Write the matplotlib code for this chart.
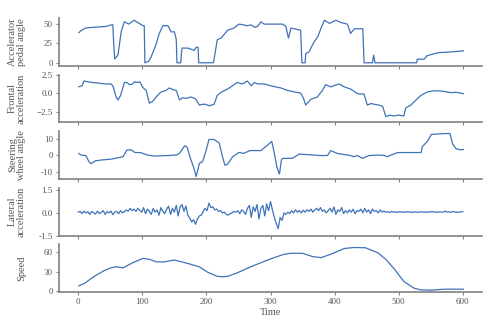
import numpy as np
import matplotlib
matplotlib.use("Agg")
import matplotlib.pyplot as plt

# ---------------------------- datos leidos ----------------------------
t_acc = [1, 5, 12, 25, 44, 51, 54, 55, 57, 62, 67, 72, 79, 87, 95, 101, 103, 104, 110,
         114, 122, 126, 132, 140, 145, 150, 153, 154, 160, 161, 162, 171, 181, 184,
         187, 188, 211, 217, 223, 233, 243, 251, 264,
         270, 275, 280, 285, 290, 319, 324, 328, 332, 347, 349, 354, 355, 360, 368,
         374, 379, 384, 392, 402, 410, 420, 425, 431, 444, 446, 459, 461, 463, 528,
         529, 540, 544, 561, 581, 601]
acc = [39, 42, 45, 46, 47, 49, 49, 30, 5, 10, 40, 53, 50, 55, 51, 48, 48, 0, 2,
       8, 25, 37, 48, 48, 40, 40, 30, 0, 0, 12, 19, 19, 16, 20,
       20, 0, 0, 30, 32, 42, 45, 50, 48,
       49, 46, 47, 53, 50, 50, 47, 32, 45, 42, 0, 0, 12, 14, 27,
       34, 45, 55, 51, 55, 52, 50, 38, 44, 44, 0, 0, 10, 0, 0,
       4.7, 4.7, 9, 13, 14, 15.4]

t_front = [1, 6, 9, 15, 22, 29, 36, 44, 51, 54, 59, 62, 66, 72, 76, 80, 84, 88, 92, 96,
           101, 106, 111, 116, 124, 129, 137, 142, 148, 153, 158, 163, 168, 176, 183,
           189, 194, 199, 204, 212, 217, 224, 233, 240, 248, 256, 264,
           270, 275, 280, 290, 300, 316, 327, 337, 347, 351, 355, 363, 373, 381, 386,
           394, 400, 407, 415, 425, 436, 446, 451, 457, 462, 469, 475, 480, 486, 493,
           500, 508, 511, 519, 527, 535, 545, 554, 563, 572, 581, 590, 601]
front = [0.92, 1.05, 1.7, 1.6, 1.5, 1.45, 1.36, 1.3, 1.3, 1.05, -0.48, -0.92, -0.3, 1.5,
         1.5, 1.2, 1.25, 1.6, 1.5, 1.6, 0.8, 0.4, -1.35, -1.1, -0.26, 0.18, 0.4, 0.75,
         0.5, 0.4, -0.9, -0.6, -0.7, -0.5, -0.75, -1.6, -1.5, -1.5, -1.7, -1.5, -0.26,
         0.2, 0.6, 1.0, 1.5, 1.3, 1.7,
         1.05, 1.5, 1.3, 1.3, 1.05, 0.75, 0.4, 0.2, 0.05, -0.6, -1.6, -0.8, -0.5, 0.4,
         1.2, 0.9, 1.1, 1.3, 0.9, 0.6, -0.05, -0.1, -1.6, -1.4, -1.5, -1.6, -1.8,
         -3.2, -3.0, -3.1, -3.0, -3.1, -2.0, -1.6, -0.92, -0.25, 0.2, 0.35, 0.35, 0.25,
         0.1, 0.15, -0.05]

t_steer = [1, 4, 12, 17, 20, 27, 36, 51, 64, 70, 76, 83, 88, 98, 108, 119, 140, 153,
           158, 166, 170, 175, 180, 184, 186, 189, 194, 199, 204, 212, 220, 225, 229,
           233, 241, 251, 258, 268,
           285, 296, 302, 306, 310, 314, 317, 319, 334, 345, 378, 389, 394, 404, 420,
           425, 430, 436, 443, 454, 467, 477, 482, 498, 535, 537, 545, 551, 571, 580,
           584, 589, 594, 601]
steer = [1, 0, -0.3, -4.2, -5.2, -3.5, -3, -2.5, -1.5, -1, 3.1, 3.1, 1.6, 1.4, 0,
         -0.6, -0.3, 0, 1, 5.6, 4.8, -2, -7.3, -13, -10, -5, -4, 2, 9.4, 9.4, 7.3, -1,
         -6.2, -5.6, -1, 1.6, 1, 2.7,
         2.7, 6.2, 8.3, 1, -7.3, -11.5, -3, -2, -2, 0.6, -0.3, -0.3, 2.7, 1, 0,
         -0.3, -1, -0.3, -2, -0.3, 0, -0.2, -1, 1.5, 1.5, 5.2, 8.3, 12.5, 13, 13,
         6.9, 4, 3.3, 3.3]

lat = [0.05, 0.1, -0.05, 0.12, 0.0, 0.08, -0.1, 0.1, 0.02, -0.08,
       0.12, -0.05, 0.05, 0.15, -0.1, 0.08, 0.0, 0.12, -0.12, 0.05,
       0.1, -0.05, 0.15, 0.0, 0.08, 0.2, 0.12, 0.3, 0.15, 0.25,
       0.1, 0.3, 0.18, 0.05, 0.35, -0.05, 0.25, 0.1, -0.1, 0.3,
       0.05, 0.2, -0.15, 0.35, 0.1, -0.05, 0.25, 0.45, -0.1, 0.3,
       0.05, 0.5, -0.2, 0.4, 0.55, 0.1, 0.45, -0.15, -0.35, -0.6,
       -0.45, -0.75, -0.4, -0.2, -0.15, 0.1, 0.3, 0.15, 0.65, 0.35,
       0.4, 0.2, 0.25, 0.1, 0.15, 0.0, 0.05, -0.1, -0.15, -0.05,
       0.0, 0.1, 0.05, 0.15, -0.05, 0.2, 0.1, -0.1, 0.3, 0.5,
       -0.3, 0.4, 0.1, 0.55, -0.4, 0.3, 0.5, -0.2, 0.6, 0.15,
       0.75, 0.2, -0.3, -0.7, -1.05, -0.3, -0.5, 0.0, -0.1, 0.05,
       -0.05, 0.15, 0.0, 0.2, 0.05, 0.15, 0.0, 0.18, 0.05, 0.2,
       0.1, 0.25, 0.05, 0.2, 0.3, 0.15, 0.35, 0.1, 0.2, 0.0,
       0.15, 0.3, 0.05, 0.4, -0.1, 0.2, 0.1, 0.35, -0.05, 0.15,
       0.0, 0.2, 0.05, 0.25, -0.05, 0.15, 0.1, 0.25, 0.0, 0.3,
       0.05, 0.2, -0.05, 0.25, 0.1, 0.15, 0.0, 0.2, 0.05, 0.12,
       0.05, 0.08, 0.02, 0.1, 0.05, 0.07, 0.03, 0.08, 0.05, 0.06,
       0.04, 0.08, 0.05, 0.06, 0.03, 0.07, 0.05, 0.04, 0.08, 0.05,
       0.06, 0.04, 0.07, 0.05, 0.1, 0.05, 0.06, 0.04, 0.07, 0.05,
       0.06, 0.12, 0.05, 0.07, 0.04, 0.1, 0.05, 0.06, 0.04, 0.07,
       0.08]
t_lat = np.arange(0, 601, 3)

t_speed = [1, 10, 25, 41, 51, 59, 70, 85, 101, 111, 122, 134, 150, 171, 189, 202, 217,
           225, 233, 248, 269, 301, 321, 332, 350, 366, 379, 394, 415, 430, 448, 467,
           480, 493, 508, 524, 534, 550, 571, 601]
speed = [7.9, 11.8, 22.6, 31.7, 35.8, 37.4, 35.8, 43.7, 50.5, 49, 45, 45, 47.9, 42.6,
         37.4, 29, 22.6, 22, 22.6, 27.9, 37.4, 50, 56.9, 58.4, 58.4, 53.2, 51.6, 56.9,
         65.8, 67.4, 67, 59.5, 48.9, 34.2, 14.7, 4.2, 1.6, 1.1, 2.6, 2.6]

labels = ["Accelerator\npedal angle", "Frontal\nacceleration", "Steering\nwheel angle",
          "Lateral\nacceleration", "Speed"]
yticks = [[0, 25, 50], [-2.5, 0.0, 2.5], [-10, 0, 10], [-1.5, 0.0, 1.5], [0, 30, 60]]
yticklabels = [["0", "25", "50"], ["\u22122.5", "0.0", "2.5"], ["-10", "0", "10"],
               ["-1.5", "0.0", "1.5"], ["0", "30", "60"]]
ylims = [(-4, 58), (-4.0, 2.6), (-14.5, 14.5), (-1.5, 1.67), (-2, 72.5)]

# ------------------------------- grafica -------------------------------
plt.rcParams['font.family'] = ['Liberation Serif', 'DejaVu Serif']
gray = '#808080'
txt = '#555555'
blue = '#3f73b8'

fig, axs = plt.subplots(5, 1, figsize=(5.0, 3.32), dpi=100, sharex=True)
fig.subplots_adjust(left=0.118, right=0.964, top=0.946, bottom=0.12, hspace=0.18)

series = [(t_acc, acc), (t_front, front), (t_steer, steer), (t_lat, lat), (t_speed, speed)]
for i, ax in enumerate(axs):
    x, y = series[i]
    ax.plot(x, y, color=blue, linewidth=0.9)
    ax.set_ylim(ylims[i])
    ax.set_yticks(yticks[i])
    ax.set_yticklabels(yticklabels[i])
    ax.set_xlim(-30, 630)
    ax.set_xticks([0, 100, 200, 300, 400, 500, 600])
    for s in ['top', 'right']:
        ax.spines[s].set_visible(False)
    for s in ['left', 'bottom']:
        ax.spines[s].set_color(gray)
        ax.spines[s].set_linewidth(1.2)
    ax.tick_params(colors=gray, labelcolor=txt, labelsize=6.5, length=2.5, width=0.8, pad=2)
    ax.set_ylabel(labels[i], fontsize=7.5, color=txt, linespacing=1.0)
    ax.yaxis.set_label_coords(-0.078, 0.5)

axs[-1].set_xlabel('Time', fontsize=7.5, color=txt, labelpad=1)
plt.savefig('out.png', dpi=100)
